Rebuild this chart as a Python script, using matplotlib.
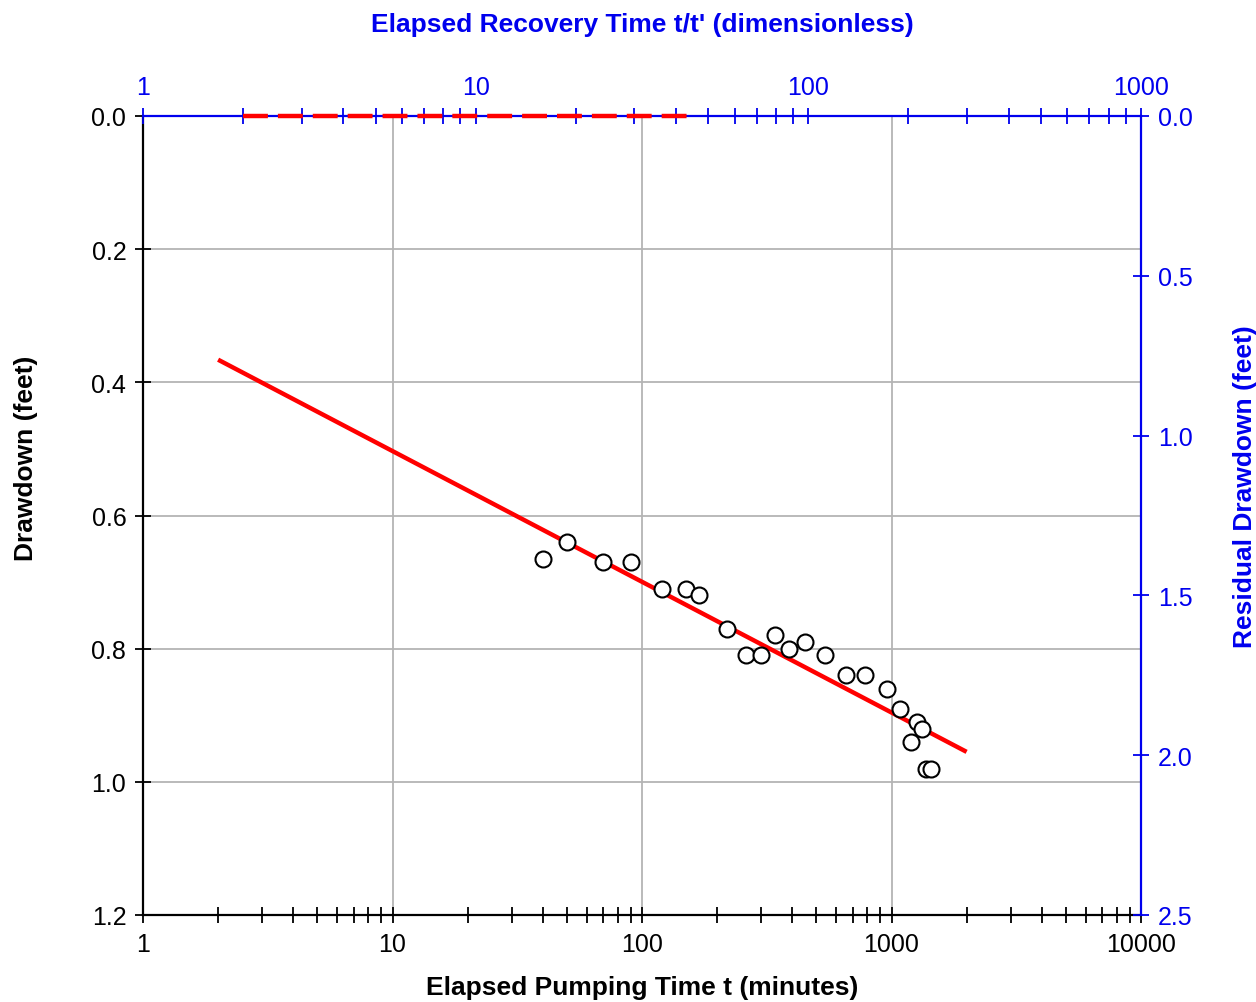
import matplotlib.pyplot as plt
import numpy as np
from matplotlib.ticker import LogLocator, FixedLocator, NullFormatter, FormatStrFormatter

plt.rcParams['font.family'] = ['Liberation Sans', 'DejaVu Sans']

# Observed drawdown during pumping
t_min = [40, 50, 70, 90, 120, 150, 170, 220, 260, 300, 340, 390, 450, 540,
         660, 780, 960, 1080, 1260, 1320, 1200, 1380, 1440]
drawdown = [0.665, 0.64, 0.67, 0.67, 0.71, 0.71, 0.72, 0.77, 0.81, 0.81, 0.78,
            0.80, 0.79, 0.81, 0.84, 0.84, 0.86, 0.89, 0.91, 0.92, 0.94, 0.98, 0.98]

# Straight-line fit (Cooper-Jacob)
fit_t = [2, 2000]
fit_s = [0.366, 0.955]

# Recovery data (residual drawdown vs t/t')
rec_ratio = [2, 46]
rec_resid = [0.0, 0.0]

blue = '#0000ee'

fig = plt.figure(figsize=(12.56, 10.03), dpi=100)
pos = [143/1256, 1 - 916/1003, (1141-143)/1256, (916-117)/1003]
ax = fig.add_axes(pos)

ax.set_xscale('log')
ax.set_xlim(1, 10000)
ax.set_ylim(1.2, 0.0)
ax.yaxis.set_major_locator(FixedLocator([0, 0.2, 0.4, 0.6, 0.8, 1.0, 1.2]))
ax.yaxis.set_major_formatter(FormatStrFormatter('%.1f'))
ax.xaxis.set_major_locator(LogLocator(base=10))
ax.xaxis.set_minor_locator(LogLocator(base=10, subs=np.arange(2, 10)))
ax.xaxis.set_minor_formatter(NullFormatter())
ax.xaxis.set_major_formatter(FormatStrFormatter('%d'))
ax.grid(True, which='major', color='#b4b4b4', lw=1.3)
ax.set_axisbelow(True)
ax.tick_params(which='major', direction='inout', length=12, width=1.3, labelsize=18, pad=6)
ax.tick_params(which='minor', direction='inout', length=11, width=1.3)
for s in ['left', 'bottom']:
    ax.spines[s].set_linewidth(1.6)
ax.spines['top'].set_visible(False)
ax.spines['right'].set_visible(False)

ax.plot(fit_t, fit_s, color='red', lw=3.2, solid_capstyle='butt', zorder=3)
ax.plot(t_min, drawdown, 'o', ms=11.5, mfc='white', mec='black', mew=1.5, zorder=4)

ax.set_xlabel('Elapsed Pumping Time t (minutes)', fontsize=19, fontweight='bold', labelpad=14)
ax.set_ylabel('Drawdown (feet)', fontsize=19, fontweight='bold')
ax.yaxis.set_label_coords(-0.105, 0.573)

# Top/right axes for recovery
ax2 = fig.add_axes(pos, frameon=True)
ax2.patch.set_alpha(0)
ax2.set_xscale('log')
ax2.set_xlim(1, 1000)
ax2.set_ylim(2.5, 0.0)
ax2.xaxis.set_label_position('top')
ax2.xaxis.tick_top()
ax2.yaxis.set_label_position('right')
ax2.yaxis.tick_right()
ax2.yaxis.set_major_locator(FixedLocator([0, 0.5, 1.0, 1.5, 2.0, 2.5]))
ax2.yaxis.set_major_formatter(FormatStrFormatter('%.1f'))
ax2.xaxis.set_major_locator(LogLocator(base=10))
ax2.xaxis.set_minor_locator(LogLocator(base=10, subs=np.arange(2, 10)))
ax2.xaxis.set_minor_formatter(NullFormatter())
ax2.xaxis.set_major_formatter(FormatStrFormatter('%d'))
ax2.tick_params(which='major', direction='inout', length=12, width=1.3, labelsize=18,
                colors=blue, pad=6)
ax2.tick_params(which='minor', direction='inout', length=11, width=1.3, colors=blue)
ax2.spines['left'].set_visible(False)
ax2.spines['bottom'].set_visible(False)
for s in ['top', 'right']:
    ax2.spines[s].set_color(blue)
    ax2.spines[s].set_linewidth(1.6)

ax2.plot(rec_ratio, rec_resid, color='red', lw=3.2, dashes=(5.6, 2.25), clip_on=False, zorder=5)

ax2.set_xlabel("Elapsed Recovery Time t/t' (dimensionless)", fontsize=19,
               fontweight='bold', color=blue, labelpad=32)
ax2.set_ylabel('Residual Drawdown (feet)', fontsize=19, fontweight='bold', color=blue)
ax2.yaxis.set_label_coords(1.092, 0.538)

fig.savefig('out.png', dpi=100)
